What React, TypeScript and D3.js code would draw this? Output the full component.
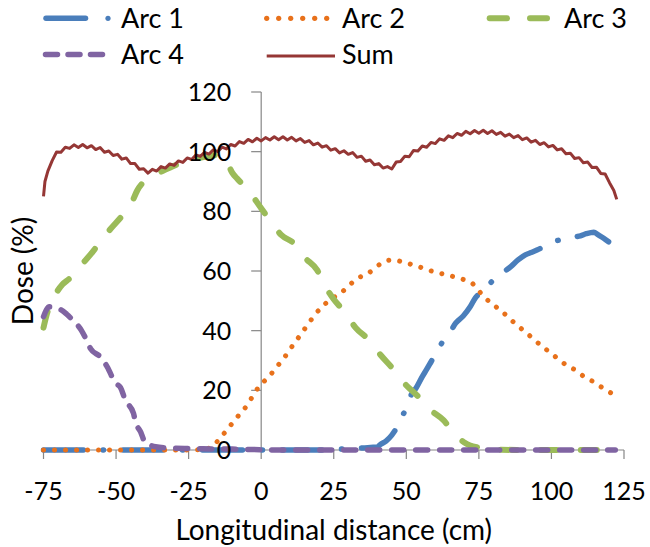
import React from "react";
import * as d3 from "d3";

// ---------- data ----------
const xTicks = [-75, -50, -25, 0, 25, 50, 75, 100, 125];
const yTicks = [0, 20, 40, 60, 80, 100, 120];
const seriesNames = ["Arc 1", "Arc 2", "Arc 3", "Arc 4", "Sum"];

const arc1: [number, number][] = [
  [-75, 0], [-50, 0], [-25, 0], [0, 0], [20, 0], [25, 0.2], [30, 0.4], [35, 0.7], [40, 1],
  [41, 1.8], [43, 3], [45, 5], [47, 8], [48.5, 11.2], [50, 14], [51.4, 17.9], [53.5, 21],
  [55.5, 24.6], [57, 27], [58.5, 29.5], [60, 32], [62, 35.5], [63.5, 37.5], [65.2, 39.7],
  [67, 42.5], [69.6, 44.9], [72, 48], [73.8, 51], [76, 53], [79, 56], [81, 58], [83, 59.3],
  [86, 61.5], [88.5, 63.7], [91, 65.4], [93, 66.2], [95, 67], [98, 68.5], [100, 69.5],
  [102, 70.2], [105, 70.8], [107.6, 71.4], [110, 71.8], [112, 72.5], [114.6, 73], [116, 72.2],
  [118, 71], [119.7, 69.8],
];

const arc2: [number, number][] = [
  [-75, 0], [-50, 0], [-25, 0], [-20, 0.2], [-18, 0.6], [-16.5, 1.5], [-15.2, 2.8], [-12, 6.5],
  [-9.5, 9.5], [-7, 12.5], [-4.8, 15], [-2, 19.6], [0.3, 22.3], [3, 25], [5.5, 28], [8, 31],
  [10.1, 34], [12.5, 37.2], [14.7, 40.2], [17.5, 44], [20.4, 47.5], [24, 50.5], [27.9, 53],
  [31, 55.8], [33, 57.5], [36, 58.7], [38.8, 60.6], [41.7, 62.8], [44.9, 63.7], [48.6, 63.1],
  [52.4, 62], [56, 60.9], [58.3, 60.1], [61.8, 59.2], [65.5, 58.3], [69.2, 57.3], [72.7, 55.9],
  [76.7, 51.4], [80.1, 48.6], [83, 46.4], [85.9, 43.8], [88.8, 41.3], [91.6, 39.1], [94.5, 36.6],
  [97.4, 34.3], [100.3, 32.1], [103.1, 29.9], [106, 27.9], [108.3, 26.8], [111.2, 24.6],
  [114.4, 22.9], [117.5, 20.9], [120.7, 19],
];

const arc3: [number, number][] = [
  [-75, 41], [-74, 45], [-73, 48], [-71, 52], [-68.5, 55.5], [-66, 57.5], [-62, 62], [-58, 66.5],
  [-55, 70.4], [-52, 74], [-48.5, 77.8], [-45, 82], [-42.7, 87], [-38, 91.6], [-34, 93.5],
  [-30, 95.3], [-24.4, 97.2], [-18, 98.5], [-14, 99], [-12, 97], [-10, 93], [-8.3, 91],
  [-4.4, 87], [0, 81], [3, 77], [7, 72], [11.2, 69.3], [15, 64.5], [19.3, 60.3], [22, 55],
  [25, 50.5], [29, 46], [32.5, 41], [37, 37], [41, 32], [45.6, 27], [49.7, 22], [54, 18],
  [57.6, 14], [62.8, 10], [67, 5], [70, 2.5], [72, 1.5], [75, 0.8], [78, 0.3], [82, 0.1],
  [90, 0], [122, 0],
];

const arc4: [number, number][] = [
  [-75, 44.7], [-74, 47], [-73, 48], [-71, 47.5], [-69, 47], [-67, 45.5], [-65, 43.6],
  [-62, 40.2], [-60.5, 37.5], [-58.8, 34], [-55.4, 31.2], [-53, 27.8], [-50.2, 22.4],
  [-48.5, 21], [-46.8, 16.7], [-44, 12.3], [-43.3, 9.4], [-41.5, 6], [-39.9, 2.3],
  [-38, 1.5], [-36.4, 1.1], [-32, 0.7], [-25, 0.5], [-20, 0.4], [-10, 0.3], [0, 0.1], [5, 0],
  [50, 0], [122, 0],
];

const sum: [number, number][] = [
  [-75, 85], [-74.5, 90], [-73.5, 93.5], [-72, 97], [-70.5, 99.9], [-69, 99.8], [-67.5, 101.5],
  [-66, 101.1], [-64.5, 102.3], [-63, 101.4], [-61.5, 102.4], [-60, 101.3], [-58.5, 102],
  [-57, 100.7], [-55.5, 101.4], [-54, 99.8], [-52.5, 100.2], [-51, 98.7], [-49.5, 99.1],
  [-48, 97.5], [-46.5, 97.9], [-45, 96], [-43.5, 96], [-42, 94.1], [-40.5, 94.3], [-39, 92.8],
  [-37.5, 94.1], [-36, 93.5], [-34.5, 95], [-33, 94.5], [-31.5, 95.9], [-30, 95.4],
  [-28.5, 96.9], [-27, 96.4], [-25.5, 97.9], [-24, 97.4], [-22.5, 98.9], [-21, 98.4],
  [-19.5, 99.8], [-18, 99.2], [-16.5, 100.6], [-15, 100], [-13.5, 101.5], [-12, 100.9],
  [-10.5, 102.4], [-9, 101.9], [-7.5, 103.4], [-6, 102.8], [-4.5, 104.1], [-3, 103.3],
  [-1.5, 104.5], [0, 103.6], [1.5, 104.7], [3, 103.9], [4.5, 105], [6, 104], [7.5, 105],
  [9, 103.9], [10.5, 104.8], [12, 103.6], [13.5, 104.4], [15, 103.1], [16.5, 103.7],
  [18, 102.3], [19.5, 102.9], [21, 101.5], [22.5, 102], [24, 100.5], [25.5, 101], [27, 99.6],
  [28.5, 100.3], [30, 99.1], [31.5, 99.7], [33, 98.1], [34.5, 98.5], [36, 96.8], [37.5, 97.2],
  [39, 95.6], [40.5, 96], [42, 94.5], [43.5, 95], [45, 94.2], [46.5, 96.5], [48, 96.7],
  [49.5, 98.5], [51, 98.3], [52.5, 100.4], [54, 100.2], [55.5, 101.9], [57, 101.5],
  [58.5, 103.1], [60, 102.7], [61.5, 104.3], [63, 103.8], [64.5, 105.3], [66, 104.7],
  [67.5, 106.1], [69, 105.5], [70.5, 106.8], [72, 106], [73.5, 107.1], [75, 106.2],
  [76.5, 107.2], [78, 106.1], [79.5, 107], [81, 105.8], [82.5, 106.5], [84, 105.2],
  [85.5, 105.9], [87, 104.7], [88.5, 105.4], [90, 104], [91.5, 104.6], [93, 103.2],
  [94.5, 103.8], [96, 102.4], [97.5, 103], [99, 101.6], [100.5, 102.1], [102, 100.6],
  [103.5, 101], [105, 99.3], [106.5, 99.5], [108, 97.7], [109.5, 98], [111, 96.3],
  [112.5, 96.5], [114, 94.7], [115.5, 94.8], [117, 92.7], [118.5, 92.5], [120, 89.6],
  [121.5, 87], [122.5, 84],
];

// ---------- styles ----------
const COLORS = {
  arc1: "#4A7EBB",
  arc2: "#E8711B",
  arc3: "#9BBB59",
  arc4: "#8064A2",
  sum: "#953735",
};
const FONT = "Lato, 'Open Sans', sans-serif";

export default function App() {
  const W = 650;
  const H = 547;
  const x = d3.scaleLinear().domain([-75, 125]).range([43.5, 624]);
  const y = d3.scaleLinear().domain([0, 120]).range([450, 92]);

  const line = d3
    .line<[number, number]>()
    .x((d) => x(d[0]))
    .y((d) => y(d[1]));
  const smooth = d3
    .line<[number, number]>()
    .x((d) => x(d[0]))
    .y((d) => y(d[1]))
    .curve(d3.curveMonotoneX);

  const axisColor = "#868686";
  const x0 = x(0);
  const y0 = y(0);

  return (
    <svg
      width={W}
      height={H}
      style={{ position: "absolute", left: 0, top: 0, background: "#fff" }}
      fontFamily={FONT}
    >
      <rect width={W} height={H} fill="#fff" />
      {/* axes */}
      <line x1={x(-75)} x2={x(125)} y1={y0} y2={y0} stroke={axisColor} strokeWidth={1.2} />
      {xTicks.map((t) => (
        <line key={"xt" + t} x1={x(t)} x2={x(t)} y1={y0} y2={y0 + 9} stroke={axisColor} strokeWidth={1.2} />
      ))}
      <line x1={x0} x2={x0} y1={y(0)} y2={y(120)} stroke={axisColor} strokeWidth={1.2} />
      {yTicks.map((t) => (
        <line key={"yt" + t} x1={x0 - 10} x2={x0} y1={y(t)} y2={y(t)} stroke={axisColor} strokeWidth={1.2} />
      ))}

      {/* series */}
      <path d={smooth(arc1) || ""} fill="none" stroke={COLORS.arc1} strokeWidth={5.5}
        strokeDasharray="40 19.5 0.5 19.5" strokeLinecap="round" strokeLinejoin="round" />
      <path d={smooth(arc2) || ""} fill="none" stroke={COLORS.arc2} strokeWidth={5}
        strokeDasharray="0.01 11" strokeLinecap="round" />
      <path d={smooth(arc3) || ""} fill="none" stroke={COLORS.arc3} strokeWidth={6}
        strokeDasharray="16 24" strokeLinecap="round" strokeLinejoin="round" />
      <path d={smooth(arc4) || ""} fill="none" stroke={COLORS.arc4} strokeWidth={5.5}
        strokeDasharray="12 12" strokeLinecap="round" strokeLinejoin="round" />
      <path d={line(sum) || ""} fill="none" stroke={COLORS.sum} strokeWidth={3} strokeLinejoin="round" />

      {/* tick labels */}
      {yTicks.map((t) => (
        <text key={"yl" + t} x={x0 - 30} y={y(t) + 9} textAnchor="end" fontSize={25} fill="#000">
          {t}
        </text>
      ))}
      {xTicks.map((t) => (
        <text key={"xl" + t} x={x(t)} y={500} textAnchor="middle" fontSize={25} fill="#000">
          {t}
        </text>
      ))}

      {/* axis titles */}
      <text x={(x(-75) + x(125)) / 2} y={540} textAnchor="middle" fontSize={28} fill="#000">
        Longitudinal distance (cm)
      </text>
      <text transform={`translate(33, ${(y(0) + y(120)) / 2}) rotate(-90)`} textAnchor="middle" fontSize={28} fill="#000">
        Dose (%)
      </text>

      {/* legend */}
      <g>
        {/* Arc 1 */}
        <line x1={46} x2={85.5} y1={18.3} y2={18.3} stroke={COLORS.arc1} strokeWidth={5.5} strokeLinecap="round" />
        <circle cx={108} cy={18.3} r={2.6} fill={COLORS.arc1} />
        <text x={121} y={28} fontSize={27} fill="#000">{seriesNames[0]}</text>
        {/* Arc 2 */}
        {[0, 1, 2, 3, 4, 5].map((i) => (
          <circle key={"a2" + i} cx={266.7 + i * 12} cy={18.3} r={2.6} fill={COLORS.arc2} />
        ))}
        <text x={342} y={28} fontSize={27} fill="#000">{seriesNames[1]}</text>
        {/* Arc 3 */}
        <line x1={489.7} x2={507} y1={18.3} y2={18.3} stroke={COLORS.arc3} strokeWidth={6} strokeLinecap="round" />
        <line x1={530} x2={547} y1={18.3} y2={18.3} stroke={COLORS.arc3} strokeWidth={6} strokeLinecap="round" />
        <text x={564} y={28} fontSize={27} fill="#000">{seriesNames[2]}</text>
        {/* Arc 4 */}
        <line x1={45.5} x2={104.5} y1={54.5} y2={54.5} stroke={COLORS.arc4} strokeWidth={5.5}
          strokeLinecap="round" strokeDasharray="12 10.5" />
        <text x={121} y={64} fontSize={27} fill="#000">{seriesNames[3]}</text>
        {/* Sum */}
        <line x1={266.7} x2={335} y1={56} y2={56} stroke={COLORS.sum} strokeWidth={3} />
        <text x={342} y={64} fontSize={27} fill="#000">{seriesNames[4]}</text>
      </g>
    </svg>
  );
}
